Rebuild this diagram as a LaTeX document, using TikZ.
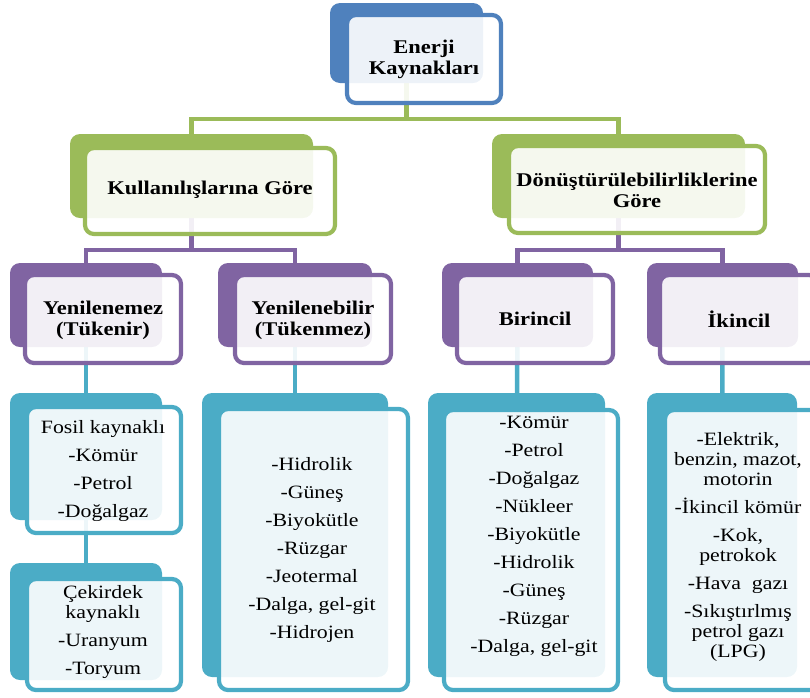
\documentclass[tikz,border=0pt]{standalone}
\usepackage{fontspec}
\setmainfont{Liberation Serif}[FakeStretch=1.16]
\usetikzlibrary{backgrounds}
\definecolor{cblue}{HTML}{4F81BD}
\definecolor{cgreen}{HTML}{9BBB59}
\definecolor{cpurple}{HTML}{8064A2}
\definecolor{cteal}{HTML}{4BACC6}
\tikzset{
  bk/.style={rectangle, rounded corners=10pt, inner sep=0pt, outer sep=0pt, draw=none},
  fr/.style={rectangle, rounded corners=9pt, inner sep=0pt, outer sep=0pt, line width=4.2pt, fill=white, fill opacity=0.9},
  ttl/.style={align=center, font=\fontsize{19.4}{21}\selectfont\bfseries, inner sep=0pt},
  lf/.style={align=center, font=\fontsize{18.8}{20}\selectfont, inner sep=0pt},
  conn/.style={line width=4.5pt},
}
\newcommand\bkbox[6]{\node[bk, fill=#2, minimum width={(#5-#3)*1pt}, minimum height={(#6-#4)*1pt}] (#1) at ({(#3+#5)/2},{(#4+#6)/2}) {};}
\newcommand\frbox[6]{\node[fr, draw=#2, minimum width={(#5-#3)*1pt}, minimum height={(#6-#4)*1pt}] (#1) at ({(#3+#5)/2},{(#4+#6)/2}) {};}
\begin{document}
\begin{tikzpicture}[x=1pt, y=-1pt]
\useasboundingbox (0,0) rectangle (810,697);
\clip (0,0) rectangle (810,697);
% back boxes
\bkbox{topB}{cblue}{330}{3}{483}{83}
\bkbox{kB}{cgreen}{70}{134}{313}{218}
\bkbox{dB}{cgreen}{492}{134}{745}{218}
\bkbox{yaB}{cpurple}{10}{263}{162}{347}
\bkbox{ybB}{cpurple}{218}{263}{372}{347}
\bkbox{bcB}{cpurple}{442}{263}{593}{347}
\bkbox{icB}{cpurple}{647}{263}{798}{347}
\bkbox{fosB}{cteal}{10}{393}{162}{520}
\bkbox{cekB}{cteal}{10}{563}{162}{680}
\bkbox{ylB}{cteal}{202}{393}{388}{677}
\bkbox{blB}{cteal}{428}{393}{605}{677}
\bkbox{ilB}{cteal}{647}{393}{797}{677}
% connectors
\coordinate (gbus) at (0,119);
\coordinate (pbus) at (0,250);
\begin{pgfonlayer}{background}
\draw[conn, cgreen] (topB.center) -- (topB.center |- gbus) -| (kB.center);
\draw[conn, cgreen] (topB.center |- gbus) -| (dB.center);
\draw[conn, cpurple] (kB.center) -- (kB.center |- pbus) -| (yaB.center);
\draw[conn, cpurple] (kB.center |- pbus) -| (ybB.center);
\draw[conn, cpurple] (dB.center) -- (dB.center |- pbus) -| (bcB.center);
\draw[conn, cpurple] (dB.center |- pbus) -| (icB.center);
\draw[conn, cteal] (yaB.center) -- (fosB.center) -- (cekB.center);
\draw[conn, cteal] (ybB.center) -- (ylB.center);
\draw[conn, cteal] (bcB.center) -- (blB.center);
\draw[conn, cteal] (icB.center) -- (ilB.center);
\end{pgfonlayer}
% front boxes
\frbox{topF}{cblue}{347}{15}{501}{103}
\frbox{kF}{cgreen}{85}{148}{335}{234}
\frbox{dF}{cgreen}{509}{146}{765}{233}
\frbox{yaF}{cpurple}{25}{275}{181}{363}
\frbox{ybF}{cpurple}{235}{275}{391}{363}
\frbox{bcF}{cpurple}{457}{275}{613}{363}
\frbox{icF}{cpurple}{660}{275}{818}{363}
\frbox{fosF}{cteal}{27}{407}{181}{533}
\frbox{cekF}{cteal}{27}{579}{181}{690}
\frbox{ylF}{cteal}{219}{409}{408}{690}
\frbox{blF}{cteal}{444}{410}{618}{690}
\frbox{ilF}{cteal}{665}{410}{822}{690}
% texts
\node[ttl] (topT) at (424,59) {Enerji\\Kaynakları};
\node[ttl] (kT) at (210,190) {Kullanılışlarına Göre};
\node[ttl] (dT) at (637,190) {Dönüştürülebilirliklerine\\Göre};
\node[ttl] (yaT) at (103,320) {Yenilenemez\\(Tükenir)};
\node[ttl] (ybT) at (313,320) {Yenilenebilir\\(Tükenmez)};
\node[ttl] (bcT) at (535,319) {Birincil};
\node[ttl] (icT) at (739,319) {İkincil};
\node[lf] (fosT) at (103,471) {Fosil kaynaklı\\[8pt]-Kömür\\[8pt]-Petrol\\[8pt]-Doğalgaz};
\node[lf] (cekT) at (103,632) {Çekirdek\\kaynaklı\\[8pt]-Uranyum\\[8pt]-Toryum};
\node[lf] (ylT) at (312,550) {-Hidrolik\\[8pt]-Güneş\\[8pt]-Biyokütle\\[8pt]-Rüzgar\\[8pt]-Jeotermal\\[8pt]-Dalga, gel-git\\[8pt]-Hidrojen};
\node[lf] (blT) at (534,536) {-Kömür\\[8pt]-Petrol\\[8pt]-Doğalgaz\\[8pt]-Nükleer\\[8pt]-Biyokütle\\[8pt]-Hidrolik\\[8pt]-Güneş\\[8pt]-Rüzgar\\[8pt]-Dalga, gel-git};
\node[lf] (ilT) at (738,547) {-Elektrik,\\benzin, mazot,\\motorin\\[8pt]-İkincil kömür\\[8pt]-Kok,\\petrokok\\[8pt]-Hava~~gazı\\[8pt]-Sıkıştırlmış\\petrol gazı\\(LPG)};
\end{tikzpicture}
\end{document}
